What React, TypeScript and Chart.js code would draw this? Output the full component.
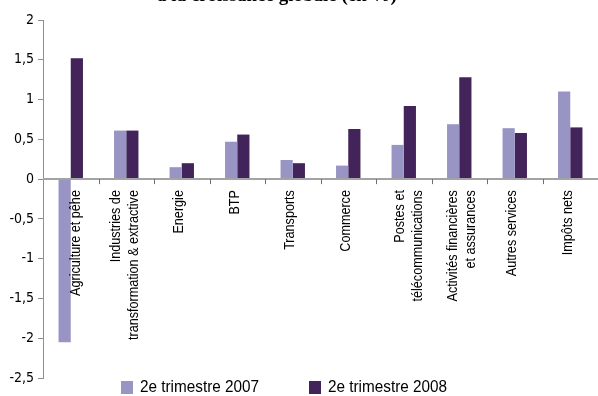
import React, { useEffect, useRef } from "react";
import { Chart, registerables } from "chart.js";

Chart.register(...registerables);

// Sector contributions to overall growth, Q2 2007 vs Q2 2008 (percentage points)
const categories: (string | string[])[] = [
  "Agriculture et pêhe",
  ["Industries de", "transformation & extractive"],
  "Energie",
  "BTP",
  "Transports",
  "Commerce",
  ["Postes et", "télécommunications"],
  ["Activités financières", "et assurances"],
  "Autres services",
  "Impôts nets",
];

const seriesLabels = ["2e trimestre 2007", "2e trimestre 2008"];

const values2007 = [-2.05, 0.61, 0.15, 0.47, 0.24, 0.17, 0.43, 0.69, 0.64, 1.1];
const values2008 = [1.52, 0.61, 0.2, 0.56, 0.2, 0.63, 0.92, 1.28, 0.58, 0.65];

const yMin = -2.5;
const yMax = 2;
const yStep = 0.5;

const titleText = "à la croissance globale (en %)";

const LIGHT = "rgb(152,149,196)";
const DARK = "rgb(66,35,90)";
const TEXT_FONT = '"Liberation Sans", Arial, sans-serif';
const TICK_FONT = '"DejaVu Sans Condensed", "DejaVu Sans", sans-serif';
// horizontal squeeze giving a condensed look to the text
const SQUEEZE = 0.9;
// small sideways nudges of the category labels (px)
const labelShift = [5, -1, -3, -2, -3, -2, 5, 3, -3, -2];

const fmt = (v: number) => String(v).replace(".", ",");

// Zero-line axis, boundary ticks, rotated category labels, legend and title
const overlayPlugin = {
  id: "overlay",
  afterDatasetsDraw(chart: any) {
    const { ctx, chartArea } = chart;
    const xs = chart.scales.x;
    const ys = chart.scales.y;
    const y0 = ys.getPixelForValue(0);
    const n = categories.length;
    const w = (chartArea.right - chartArea.left) / n;

    ctx.save();
    // axis at zero
    ctx.strokeStyle = "#a3a3a3";
    ctx.lineWidth = 2;
    ctx.beginPath();
    ctx.moveTo(chartArea.left, y0);
    ctx.lineTo(chartArea.right, y0);
    ctx.stroke();

    // category boundary ticks
    ctx.strokeStyle = "#6f6f6f";
    ctx.lineWidth = 1;
    for (let k = 1; k < n; k++) {
      const x = Math.round(chartArea.left + k * w) + 0.5;
      ctx.beginPath();
      ctx.moveTo(x, y0);
      ctx.lineTo(x, y0 + 5);
      ctx.stroke();
    }

    // rotated category labels, ending just under the zero line
    ctx.fillStyle = "#000";
    ctx.font = `14px ${TEXT_FONT}`;
    ctx.textAlign = "right";
    ctx.textBaseline = "middle";
    const lineH = 18;
    categories.forEach((lab, i) => {
      const lines = Array.isArray(lab) ? lab : [lab];
      const cx = xs.getPixelForValue(i) + labelShift[i];
      ctx.save();
      ctx.translate(cx, y0 + 11);
      ctx.rotate(-Math.PI / 2);
      ctx.scale(SQUEEZE, 1);
      lines.forEach((t, k) => {
        ctx.fillText(t, 0, (k - (lines.length - 1) / 2) * lineH);
      });
      ctx.restore();
    });

    // legend
    const legendX = [121, 309];
    const legendY = 387;
    ctx.font = `17px ${TEXT_FONT}`;
    ctx.textAlign = "left";
    ctx.textBaseline = "middle";
    chart.data.datasets.forEach((ds: any, i: number) => {
      ctx.fillStyle = ds.backgroundColor;
      ctx.fillRect(legendX[i], legendY - 6, 12, 13);
      ctx.fillStyle = "#000";
      ctx.save();
      ctx.translate(legendX[i] + 19, legendY + 0.5);
      ctx.scale(SQUEEZE, 1);
      ctx.fillText(ds.label, 0, 0);
      ctx.restore();
    });

    // title (mostly above the canvas edge)
    ctx.font = `bold 19px "Liberation Serif", serif`;
    ctx.textAlign = "center";
    ctx.textBaseline = "alphabetic";
    ctx.fillText(titleText, 277, 1);
    ctx.restore();
  },
};

export default function App() {
  const ref = useRef<HTMLCanvasElement | null>(null);

  useEffect(() => {
    if (!ref.current) return;
    const chart = new Chart(ref.current, {
      type: "bar",
      data: {
        labels: categories.map((c) => (Array.isArray(c) ? c.join(" ") : c)),
        datasets: [
          { label: seriesLabels[0], data: values2007, backgroundColor: LIGHT, borderWidth: 0 },
          { label: seriesLabels[1], data: values2008, backgroundColor: DARK, borderWidth: 0 },
        ],
      },
      options: {
        animation: false,
        responsive: false,
        devicePixelRatio: 1,
        layout: { padding: { left: 0, right: 0, top: 20, bottom: 18 } },
        plugins: {
          legend: { display: false },
          tooltip: { enabled: false },
          title: { display: false },
        },
        datasets: {
          bar: { categoryPercentage: 0.44, barPercentage: 1 },
        },
        scales: {
          x: { display: false },
          y: {
            min: yMin,
            max: yMax,
            afterFit: (scale: any) => {
              scale.width = 43;
            },
            border: { display: true, color: "#8f8f8f", width: 1 },
            grid: {
              display: true,
              drawOnChartArea: false,
              drawTicks: true,
              tickLength: 5,
              color: "#8f8f8f",
            },
            ticks: {
              stepSize: yStep,
              padding: 4,
              color: "#000",
              font: { family: TICK_FONT, size: 14 },
              callback: (v: any) => fmt(Number(v)),
            },
          },
        },
      },
      plugins: [overlayPlugin],
    });
    return () => chart.destroy();
  }, []);

  return (
    <div style={{ position: "absolute", left: 0, top: 0, width: 598, height: 396, background: "#fff" }}>
      <canvas ref={ref} width={598} height={396} />
    </div>
  );
}
